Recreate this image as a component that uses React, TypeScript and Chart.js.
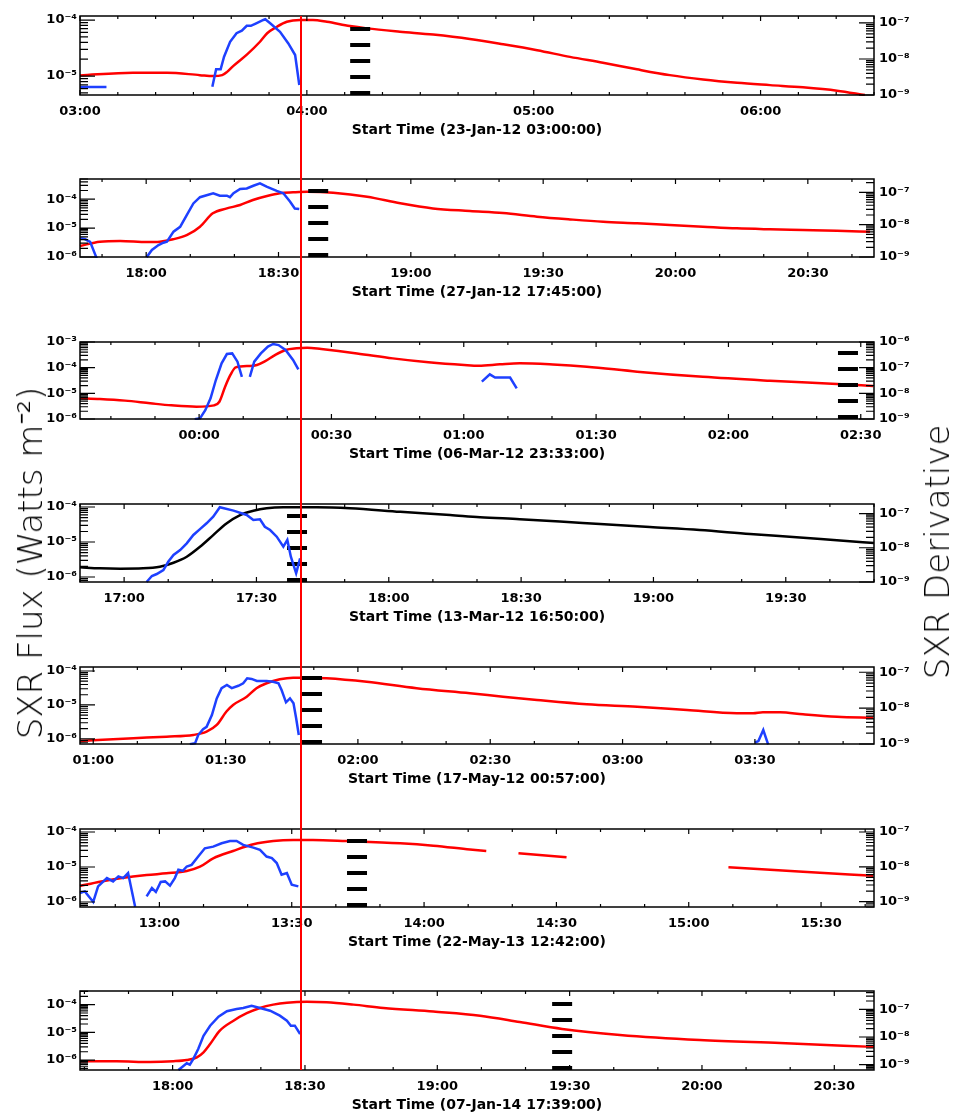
import { useEffect, useRef } from "react"
import { Chart, registerables } from "chart.js"

Chart.register(...registerables)
Chart.defaults.font.family = "DejaVu Sans"
Chart.defaults.color = "#000"

type Pt = [number, number | null]

// one entry per panel, top to bottom
const startTimes = [
  "23-Jan-12 03:00:00",
  "27-Jan-12 17:45:00",
  "06-Mar-12 23:33:00",
  "13-Mar-12 16:50:00",
  "17-May-12 00:57:00",
  "22-May-13 12:42:00",
  "07-Jan-14 17:39:00",
]
const spanMinutes = [210, 180, 180, 180, 180, 180, 180]
const tickLabels = [
  ["03:00", "04:00", "05:00", "06:00"],
  ["18:00", "18:30", "19:00", "19:30", "20:00", "20:30"],
  ["00:00", "00:30", "01:00", "01:30", "02:00", "02:30"],
  ["17:00", "17:30", "18:00", "18:30", "19:00", "19:30"],
  ["01:00", "01:30", "02:00", "02:30", "03:00", "03:30"],
  ["13:00", "13:30", "14:00", "14:30", "15:00", "15:30"],
  ["18:00", "18:30", "19:00", "19:30", "20:00", "20:30"],
]
// minutes after start time
const peakMinutes = [58.33, 50, 50, 50, 50, 50, 50]
const dashMinutes = [74.1, 54, 174.1, 49.2, 52.6, 62.8, 109.3]

const fluxRanges: [number, number][] = [
  [4.6e-6, 1.18e-4],
  [1e-6, 5e-4],
  [1e-6, 1e-3],
  [7.2e-7, 1.22e-4],
  [7.1e-7, 1.31e-4],
  [7.2e-7, 1.22e-4],
  [4.4e-7, 3.1e-4],
]
const derivRanges: [number, number][] = [
  [1e-9, 1.56e-7],
  [1e-9, 2.6e-7],
  [1e-9, 1e-6],
  [1e-9, 1.9e-7],
  [1e-9, 1.4e-7],
  [7.2e-10, 1.22e-7],
  [6.4e-10, 4.6e-7],
]

// SXR flux (W m^-2)
const flux1: Pt[] = [
  [0, 1.03e-5], [14, 1.15e-5], [23, 1.15e-5], [31.7, 1.04e-5], [35.2, 1.0e-5], [37.6, 1.04e-5],
  [38.9, 1.19e-5], [40.5, 1.51e-5], [44.2, 2.44e-5], [47.6, 4.1e-5], [49.5, 5.8e-5], [52.1, 7.6e-5],
  [54.7, 9.3e-5], [58.2, 1.0e-4], [61.6, 1.0e-4], [65.3, 9.3e-5], [71.4, 7.8e-5], [75.9, 7.1e-5],
  [84.6, 6.2e-5], [93.4, 5.5e-5], [103.1, 4.6e-5], [111.9, 3.7e-5], [120.9, 2.9e-5], [129.6, 2.2e-5],
  [138.3, 1.73e-5], [147.3, 1.32e-5], [156, 1.04e-5], [164.8, 8.7e-6], [173.8, 7.6e-6], [182.5, 6.9e-6],
  [191.2, 6.3e-6], [200.2, 5.5e-6], [207.6, 4.6e-6],
]
const flux2: Pt[] = [
  [0, 2.4e-6], [4.5, 3.4e-6], [9.1, 3.6e-6], [15.2, 3.3e-6], [18.1, 3.4e-6], [21.1, 4.1e-6],
  [24.3, 5.8e-6], [27.2, 1.12e-5], [30.1, 3.25e-5], [33.3, 4.8e-5], [36.3, 6.3e-5], [39.2, 9.4e-5],
  [42.4, 1.29e-4], [45.3, 1.6e-4], [48.3, 1.73e-4], [51.5, 1.82e-4], [57.4, 1.68e-4], [65.1, 1.22e-4],
  [72.6, 7.2e-5], [80, 4.8e-5], [88.4, 3.9e-5], [95.9, 3.3e-5], [103.6, 2.48e-5], [111.1, 2.0e-5],
  [118.6, 1.66e-5], [126.3, 1.47e-5], [133.7, 1.28e-5], [141.2, 1.12e-5], [148.9, 9.8e-6],
  [156.4, 9.1e-6], [163.9, 8.6e-6], [171.6, 8.1e-6], [179.1, 7.5e-6],
]
const flux3: Pt[] = [
  [0, 6.4e-6], [4.5, 6.0e-6], [10.2, 5.2e-6], [15.9, 4.1e-6], [20.7, 3.4e-6], [26.4, 3.0e-6],
  [30.4, 3.4e-6], [31.6, 4.7e-6], [32.9, 1.81e-5], [34.1, 5.2e-5], [35.3, 1.03e-4], [38.5, 1.16e-4],
  [40.1, 1.27e-4], [41.8, 1.71e-4], [44.2, 3.1e-4], [46.6, 4.9e-4], [49.1, 5.7e-4], [51.5, 6.0e-4],
  [54.7, 5.3e-4], [62.8, 3.6e-4], [70.9, 2.3e-4], [79, 1.62e-4], [87.1, 1.27e-4], [90.4, 1.19e-4],
  [95.2, 1.35e-4], [99.7, 1.48e-4], [107.2, 1.33e-4], [114.9, 1.09e-4], [126.3, 7.0e-5],
  [141.2, 4.4e-5], [156.4, 3.1e-5], [171.6, 2.3e-5], [179.8, 1.93e-5],
]
const flux4: Pt[] = [
  [0, 1.89e-6], [4.5, 1.77e-6], [9.1, 1.73e-6], [14.3, 1.77e-6], [18.1, 1.97e-6], [21.2, 2.56e-6],
  [24.2, 3.8e-6], [27.2, 7.3e-6], [30.2, 1.58e-5], [33.2, 3.4e-5], [36.3, 5.9e-5], [39.3, 7.8e-5],
  [42.3, 9.2e-5], [46.1, 9.8e-5], [49.9, 9.8e-5], [53.7, 9.8e-5], [61.2, 9.2e-5], [72.6, 7.3e-5],
  [83.9, 5.9e-5], [90.7, 5.1e-5], [99.7, 4.5e-5], [108.8, 3.85e-5], [117.9, 3.27e-5], [129.2, 2.68e-5],
  [140.5, 2.2e-5], [151.9, 1.69e-5], [163.2, 1.35e-5], [172.3, 1.1e-5], [180, 9.4e-6],
]
const flux5: Pt[] = [
  [0, 8.7e-7], [12.1, 1.05e-6], [19.6, 1.17e-6], [25.7, 1.31e-6], [28.7, 1.64e-6], [31, 2.58e-6],
  [33.2, 6.4e-6], [34.7, 1.0e-5], [37.8, 1.75e-5], [40, 3.1e-5], [42.3, 4.35e-5], [45.3, 5.7e-5],
  [48.3, 6.35e-5], [51.4, 6.35e-5], [55.9, 6.1e-5], [65, 4.8e-5], [76.3, 3.1e-5], [88.4, 2.21e-5],
  [95.9, 1.75e-5], [103.6, 1.4e-5], [114.9, 1.05e-5], [126.3, 8.9e-6], [137.6, 7.1e-6], [148.9, 5.7e-6],
  [152.6, 5.7e-6], [154.8, 6.1e-6], [158.7, 6.1e-6], [163.9, 5.3e-6], [171.6, 4.5e-6], [179.8, 4.2e-6],
]
const flux6: Pt[] = [
  [0, 2.87e-6], [4.5, 3.8e-6], [9.1, 4.75e-6], [15.1, 5.9e-6], [19.6, 6.6e-6], [24.2, 7.7e-6],
  [27.2, 1.02e-5], [30.2, 1.77e-5], [34.7, 2.87e-5], [39.3, 4.45e-5], [43.8, 5.5e-5], [48.3, 5.9e-5],
  [52.8, 5.9e-5], [60.4, 5.5e-5], [72.6, 4.75e-5], [80.1, 4.06e-5], [88.4, 3.16e-5], [92.1, 2.87e-5],
  [95, null],
  [99.4, 2.46e-5], [110.3, 1.89e-5],
  [120, null],
  [147, 9.8e-6], [163.9, 7.3e-6], [179.8, 5.6e-6],
]
const flux7: Pt[] = [
  [0, 9.1e-7], [8.3, 9.1e-7], [15.9, 8.5e-7], [21.2, 9.1e-7], [24.2, 1.01e-6], [26.5, 1.26e-6],
  [28, 1.91e-6], [29.5, 3.8e-6], [31.7, 1.15e-5], [34.8, 2.64e-5], [37.8, 4.9e-5], [40.8, 7.6e-5],
  [43.8, 1.0e-4], [46.9, 1.18e-4], [51.4, 1.28e-4], [55.9, 1.22e-4], [62, 1.0e-4], [68.8, 7.6e-5],
  [80.1, 5.6e-5], [90.7, 4.0e-5], [99.7, 2.37e-5], [109.3, 1.33e-5], [122.4, 8.1e-6], [140.5, 5.3e-6],
  [158.7, 4.1e-6], [180, 3.0e-6],
]

// SXR derivative
const deriv1: Pt[] = [
  [0, 1.67e-9], [7, 1.67e-9],
  [20, null],
  [35, 1.7e-9], [36, 5.2e-9], [37.2, 5.2e-9], [38.1, 1.16e-8], [39.7, 3.0e-8], [41.4, 5.2e-8],
  [42.8, 6.1e-8], [44.1, 8.3e-8], [45.2, 8.3e-8], [46.6, 9.8e-8], [48.5, 1.21e-7], [49, 1.27e-7],
  [50.3, 9.8e-8], [52.9, 5.7e-8], [55.1, 2.7e-8], [56.9, 1.29e-8], [58, 1.9e-9],
]
const deriv2: Pt[] = [
  [0, 3.84e-9], [1.1, 3.6e-9], [2.3, 2.94e-9], [3.8, 0.9e-9],
  [8, null],
  [15.1, 0.98e-9], [16.3, 1.65e-9], [17.8, 2.35e-9], [18.9, 2.77e-9], [19.7, 2.98e-9], [21.2, 6.1e-9],
  [22.7, 8.6e-9], [24.2, 1.99e-8], [25.7, 4.55e-8], [27.2, 7.1e-8], [28.7, 8.2e-8], [30.2, 9.4e-8],
  [31.7, 7.9e-8], [33.3, 7.9e-8], [34, 7.1e-8], [34.8, 9.4e-8], [36.3, 1.27e-7], [37.8, 1.33e-7],
  [39.3, 1.61e-7], [40.8, 1.91e-7], [42.3, 1.51e-7], [44.6, 1.12e-7], [46.1, 9.4e-8], [47.6, 5.2e-8],
  [48.7, 3.18e-8], [49.7, 3.05e-8],
]
const deriv3: Pt[] = [
  [26, 0.97e-9], [27.2, 1.06e-9], [28.4, 2.2e-9], [29.6, 6.4e-9], [30.8, 3.3e-8], [32.1, 1.48e-7],
  [33.3, 3.4e-7], [34.5, 3.6e-7], [35.7, 1.71e-7], [36.7, 4.4e-8],
  [37.5, null],
  [38.5, 4.4e-8], [39.5, 1.71e-7], [41, 3.6e-7], [42.6, 6.6e-7], [43.8, 8.4e-7], [45, 7.6e-7],
  [46.6, 4.9e-7], [48.3, 2.0e-7], [49.5, 8.6e-8],
  [70, null],
  [91.1, 2.84e-8], [92.9, 5.5e-8], [94.1, 4.1e-8], [97.5, 4.1e-8], [99, 1.57e-8],
]
const deriv4: Pt[] = [
  [15.1, 1.0e-9], [16.3, 1.5e-9], [17.4, 1.71e-9], [18.9, 2.24e-9], [20, 3.9e-9], [21.2, 6.2e-9],
  [22.7, 8.6e-9], [24.2, 1.35e-8], [25.7, 2.37e-8], [27.2, 3.5e-8], [28.7, 5.2e-8], [30.2, 8.1e-8],
  [31.7, 1.53e-7], [34.8, 1.22e-7], [37.8, 9.1e-8], [39.3, 6.5e-8], [40.8, 6.8e-8], [41.9, 4.1e-8],
  [43.1, 3.3e-8], [44.6, 2.11e-8], [46.1, 1.08e-8], [47, 1.69e-8], [47.8, 5.5e-9], [49, 1.8e-9],
  [49.9, 4.9e-9],
]
const deriv5: Pt[] = [
  [24.9, 0.98e-9], [26.1, 1.05e-9], [26.8, 1.78e-9], [27.9, 2.6e-9], [28.7, 3.0e-9], [29.9, 6.4e-9],
  [31, 1.87e-8], [32.1, 3.6e-8], [33.3, 4.4e-8], [34.4, 3.6e-8], [35.9, 4.2e-8], [37, 4.9e-8],
  [37.9, 6.8e-8], [38.9, 6.5e-8], [40.1, 5.7e-8], [42.3, 5.7e-8], [43.8, 5.4e-8], [45, 4.9e-8],
  [45.7, 3.2e-8], [46.7, 1.45e-8], [47.6, 1.87e-8], [48.4, 1.36e-8], [49, 5.2e-9], [49.6, 1.78e-9],
  [100, null],
  [153, 1.1e-9], [153.8, 1.21e-9], [154.9, 2.45e-9], [156, 0.98e-9],
]
const deriv6: Pt[] = [
  [0, 1.77e-9], [1.1, 1.97e-9], [3, 9.8e-10], [4.1, 2.74e-9], [6.1, 4.75e-9], [7.5, 3.8e-9],
  [8.7, 5.3e-9], [9.8, 4.75e-9], [10.9, 6.6e-9], [12.5, 7.1e-10],
  [13.5, null],
  [15.1, 1.42e-9], [16.3, 2.46e-9], [17.2, 1.89e-9], [18.3, 3.66e-9], [19.3, 3.8e-9], [20.4, 2.87e-9],
  [21.5, 4.75e-9], [22.3, 8.2e-9], [23.3, 7.7e-9], [24.2, 1.02e-8], [25.3, 1.14e-8], [26.8, 1.97e-8],
  [28.3, 3.4e-8], [30.2, 3.8e-8], [32.1, 4.75e-8], [34, 5.5e-8], [35.5, 5.5e-8], [37, 4.25e-8],
  [39.3, 3.56e-8], [40.8, 3.06e-8], [42.3, 1.97e-8], [43.5, 1.77e-8], [44.6, 1.28e-8], [45.7, 5.9e-9],
  [46.9, 6.6e-9], [48, 3.06e-9], [49.5, 2.74e-9],
]
const deriv7: Pt[] = [
  [22.3, 6.4e-10], [23.1, 8.1e-10], [24.2, 1.12e-9], [24.9, 1.0e-9], [25.7, 1.61e-9], [26.8, 3.7e-9],
  [28, 1.11e-8], [29.5, 2.56e-8], [31.4, 5.4e-8], [33.3, 8.5e-8], [35.5, 1.03e-7], [37, 1.11e-7],
  [38.9, 1.35e-7], [40.8, 1.11e-7], [43.1, 8.9e-8], [45.3, 5.9e-8], [46.9, 3.9e-8], [47.8, 2.56e-8],
  [48.7, 2.56e-8], [49.9, 1.28e-8],
]

const fluxSeries = [flux1, flux2, flux3, flux4, flux5, flux6, flux7]
const derivSeries = [deriv1, deriv2, deriv3, deriv4, deriv5, deriv6, deriv7]
const fluxColors = ["#ff0000", "#ff0000", "#ff0000", "#000000", "#ff0000", "#ff0000", "#ff0000"]

// page layout
const panelTops = [16, 179, 342, 504, 667, 829, 991]
const plotHeights = [79, 78, 77, 78, 77, 78, 79]
const PAGE_W = 953
const PAGE_H = 1114
const PAD_TOP = 16
const X_AXIS_H = 44
const tickFont = { size: 13, weight: "bold" as const }

const SUP: Record<string, string> = {
  "-": "⁻", "0": "⁰", "1": "¹", "2": "²", "3": "³", "4": "⁴", "5": "⁵", "6": "⁶", "7": "⁷", "8": "⁸", "9": "⁹",
}

const decadeLabel = (v: number) => {
  const e = Math.log10(v)
  const r = Math.round(e)
  if (Math.abs(e - r) > 1e-6) return ""
  return "10" + String(r).split("").map((c) => SUP[c]).join("")
}

const clockMinutes = (s: string) => {
  const [h, m] = s.split(":").map(Number)
  return h * 60 + m
}
const startClock = (i: number) => clockMinutes(startTimes[i].split(" ")[1])
const tickOffsets = (i: number) =>
  tickLabels[i].map((t) => (clockMinutes(t) - startClock(i) + 1440) % 1440)

const toXY = (pts: Pt[]) => pts.map(([x, y]) => ({ x, y }))

function canvasHeight(i: number) {
  const top = panelTops[i] - PAD_TOP
  const next = i < panelTops.length - 1 ? panelTops[i + 1] - PAD_TOP : PAGE_H
  return next - top
}

// IDL style box: inward ticks on all sides, plus the red alignment line
function idlAxes(i: number) {
  return {
    id: "idlAxes",
    afterDraw(chart: Chart) {
      const { ctx } = chart
      const { left, right, top, bottom } = chart.chartArea
      const xs = chart.scales.x
      const seg = (x0: number, y0: number, x1: number, y1: number) => {
        ctx.moveTo(x0, y0)
        ctx.lineTo(x1, y1)
      }
      ctx.save()
      ctx.beginPath()
      ctx.strokeStyle = "#000"
      ctx.lineWidth = 1.2

      const s0 = startClock(i)
      const majors = tickOffsets(i)
      for (let m = (10 - (s0 % 10)) % 10; m <= spanMinutes[i] + 0.01; m += 10) {
        const px = xs.getPixelForValue(m)
        const len = majors.includes(m) ? 5 : 3
        seg(px, bottom, px, bottom - len)
        seg(px, top, px, top + len)
      }

      const logTicks = (id: string, x0: number, dir: number) => {
        const sc = chart.scales[id]
        const lo = Math.floor(Math.log10(sc.min))
        const hi = Math.ceil(Math.log10(sc.max))
        for (let d = lo; d <= hi; d++) {
          for (let k = 1; k < 10; k++) {
            const v = k * Math.pow(10, d)
            if (v < sc.min * 0.999 || v > sc.max * 1.001) continue
            const py = sc.getPixelForValue(v)
            seg(x0, py, x0 + dir * (k === 1 ? 15 : 8), py)
          }
        }
      }
      logTicks("y", left, 1)
      logTicks("y2", right, -1)
      ctx.stroke()

      ctx.lineWidth = 1.5
      ctx.strokeRect(left, top, right - left, bottom - top)

      ctx.beginPath()
      ctx.strokeStyle = "#ff0000"
      ctx.lineWidth = 2
      const px = Math.round(xs.getPixelForValue(peakMinutes[i]))
      ctx.moveTo(px, i === 0 ? top : 0)
      ctx.lineTo(px, i === panelTops.length - 1 ? bottom : chart.height)
      ctx.stroke()
      ctx.restore()
    },
  }
}

function Panel({ index }: { index: number }) {
  const chartRef = useRef<HTMLCanvasElement>(null)
  const chartInstance = useRef<Chart | null>(null)

  useEffect(() => {
    if (!chartRef.current) return
    if (chartInstance.current) chartInstance.current.destroy()
    const ctx = chartRef.current.getContext("2d")
    if (!ctx) return

    const i = index
    const [fMin, fMax] = fluxRanges[i]
    const [dMin, dMax] = derivRanges[i]
    const h = canvasHeight(i)

    chartInstance.current = new Chart(ctx, {
      type: "line",
      data: {
        datasets: [
          {
            data: toXY(derivSeries[i]),
            yAxisID: "y2",
            borderColor: "#1e40ff",
            borderWidth: 2.5,
            pointRadius: 0,
            tension: 0,
            clip: 1,
          },
          {
            data: [
              { x: dashMinutes[i], y: fMin },
              { x: dashMinutes[i], y: fMax },
            ],
            yAxisID: "y",
            borderColor: "#000",
            borderWidth: 20,
            borderDash: [4, 12],
            pointRadius: 0,
          },
          {
            data: toXY(fluxSeries[i]),
            yAxisID: "y",
            borderColor: fluxColors[i],
            borderWidth: 2.5,
            pointRadius: 0,
            cubicInterpolationMode: "monotone",
            clip: 1,
          },
        ],
      },
      options: {
        responsive: true,
        maintainAspectRatio: false,
        animation: false,
        events: [],
        layout: {
          padding: { top: PAD_TOP, left: 0, right: 0, bottom: h - PAD_TOP - plotHeights[i] - X_AXIS_H },
        },
        plugins: { legend: { display: false }, tooltip: { enabled: false } },
        scales: {
          x: {
            type: "linear",
            min: 0,
            max: spanMinutes[i],
            grid: { display: false, drawTicks: false },
            border: { display: false },
            afterBuildTicks: (axis: any) => {
              axis.ticks = tickOffsets(i).map((v) => ({ value: v }))
            },
            afterFit: (axis: any) => {
              axis.height = X_AXIS_H
            },
            ticks: {
              autoSkip: false,
              maxRotation: 0,
              padding: 9,
              font: tickFont,
              color: "#000",
              callback: (_v: any, idx: number) => tickLabels[i][idx],
            },
            title: {
              display: true,
              text: `Start Time (${startTimes[i]})`,
              font: { size: 14, weight: "bold" },
              color: "#000",
              padding: 0,
            },
          },
          y: {
            type: "logarithmic",
            position: "left",
            min: fMin,
            max: fMax,
            grid: { display: false, drawTicks: false },
            border: { display: false },
            afterFit: (axis: any) => {
              axis.width = 80
            },
            ticks: {
              autoSkip: false,
              padding: 3,
              font: tickFont,
              color: "#000",
              callback: (v: any) => decadeLabel(Number(v)),
            },
          },
          y2: {
            type: "logarithmic",
            position: "right",
            min: dMin,
            max: dMax,
            grid: { display: false, drawTicks: false },
            border: { display: false },
            afterFit: (axis: any) => {
              axis.width = PAGE_W - 874
            },
            ticks: {
              autoSkip: false,
              padding: 5,
              font: tickFont,
              color: "#000",
              callback: (v: any) => decadeLabel(Number(v)),
            },
          },
        },
      },
      plugins: [idlAxes(i)],
    })

    return () => {
      if (chartInstance.current) {
        chartInstance.current.destroy()
        chartInstance.current = null
      }
    }
  }, [index])

  return (
    <div
      style={{
        position: "absolute",
        left: 0,
        top: panelTops[index] - PAD_TOP,
        width: PAGE_W,
        height: canvasHeight(index),
      }}
    >
      <canvas ref={chartRef} />
    </div>
  )
}

const sideTitle = (cx: number, cy: number): React.CSSProperties => ({
  position: "absolute",
  left: cx,
  top: cy,
  transform: "translate(-50%, -50%) rotate(-90deg)",
  fontFamily: "DejaVu Sans",
  fontWeight: 200,
  fontSize: 34,
  lineHeight: 1,
  whiteSpace: "nowrap",
  color: "#000",
})

export default function App() {
  return (
    <div
      style={{
        position: "absolute",
        left: 0,
        top: 0,
        width: PAGE_W,
        height: PAGE_H,
        background: "#fff",
        overflow: "hidden",
      }}
    >
      {panelTops.map((_, i) => (
        <Panel key={i} index={i} />
      ))}
      <div style={sideTitle(30, 563)}>SXR Flux (Watts m⁻²)</div>
      <div style={sideTitle(937, 552)}>SXR Derivative</div>
    </div>
  )
}
